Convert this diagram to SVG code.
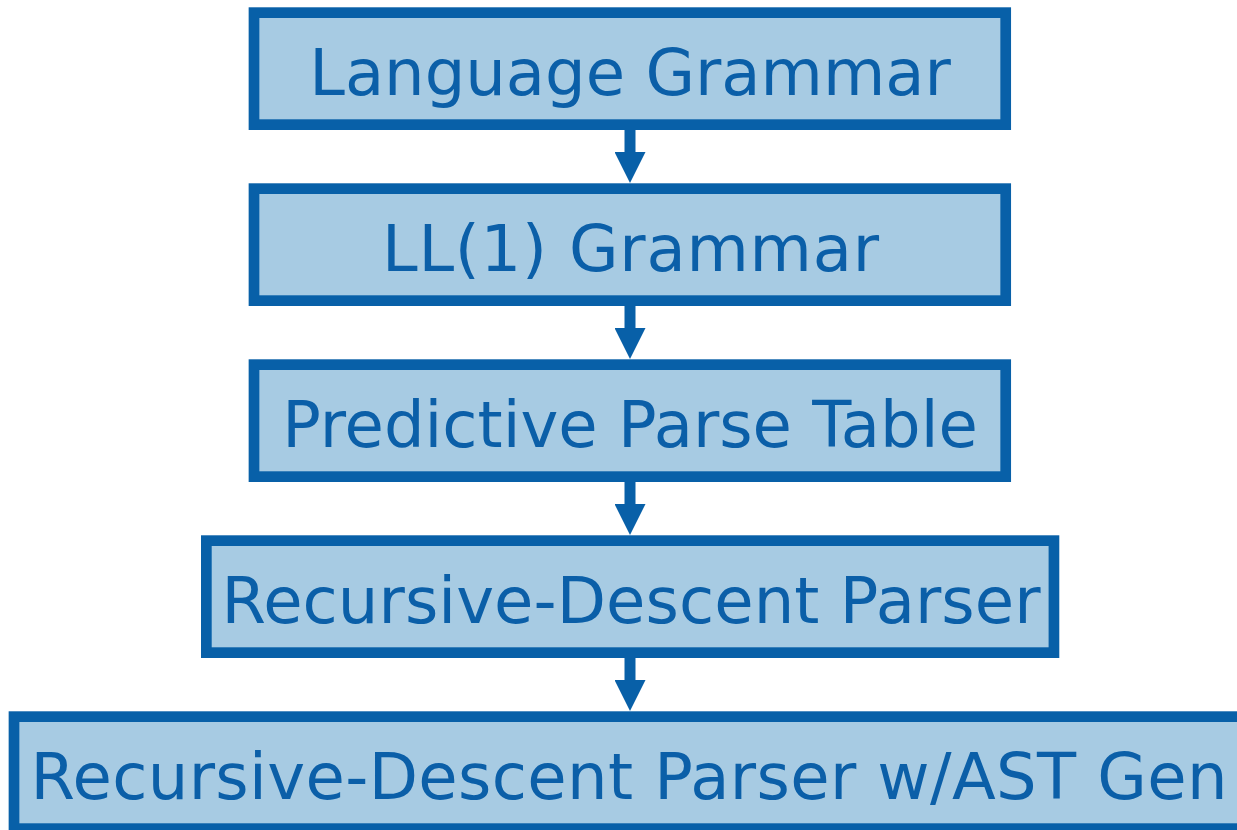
<svg xmlns="http://www.w3.org/2000/svg" width="1237" height="830" viewBox="0 0 1237 830">
  <style>
    .box { fill: #a7cbe3; stroke: #0860a8; stroke-width: 10.7; }
    .lbl { font-family: "DejaVu Sans", Verdana, sans-serif; font-size: 64px; fill: #0b5fa8; text-anchor: middle; }
    .conn { stroke: #0860a8; stroke-width: 11; fill: none; }
  </style>
  <defs>
    <marker id="ah" markerUnits="userSpaceOnUse" markerWidth="31" markerHeight="31" viewBox="0 0 31 31" refX="0" refY="15.5" orient="auto">
      <path d="M0,0 L31,15.5 L0,31 z" fill="#0860a8"/>
    </marker>
  </defs>
  <rect width="1237" height="830" fill="#ffffff"/>
  <g id="n1">
    <rect class="box" x="254" y="12.65" width="751.7" height="112"/>
    <text class="lbl" x="630" y="95">Language Grammar</text>
  </g>
  <g id="n2">
    <rect class="box" x="254" y="188.65" width="751.7" height="112"/>
    <text class="lbl" x="630.5" y="271" textLength="497" lengthAdjust="spacing">LL(1) Grammar</text>
  </g>
  <g id="n3">
    <rect class="box" x="254" y="364.65" width="751.7" height="112"/>
    <text class="lbl" x="630" y="447">Predictive Parse Table</text>
  </g>
  <g id="n4">
    <rect class="box" x="206.35" y="540.65" width="847.6" height="112"/>
    <text class="lbl" x="631" y="623" textLength="819" lengthAdjust="spacing">Recursive-Descent Parser</text>
  </g>
  <g id="n5">
    <rect class="box" x="14" y="716.65" width="1232" height="112"/>
    <text class="lbl" x="629" y="799" textLength="1197" lengthAdjust="spacing">Recursive-Descent Parser w/AST Gen</text>
  </g>
  <g id="connectors">
    <line class="conn" x1="630" y1="130" x2="630" y2="152" marker-end="url(#ah)"/>
    <line class="conn" x1="630" y1="306" x2="630" y2="328" marker-end="url(#ah)"/>
    <line class="conn" x1="630" y1="482" x2="630" y2="504" marker-end="url(#ah)"/>
    <line class="conn" x1="630" y1="658" x2="630" y2="680" marker-end="url(#ah)"/>
  </g>
</svg>
